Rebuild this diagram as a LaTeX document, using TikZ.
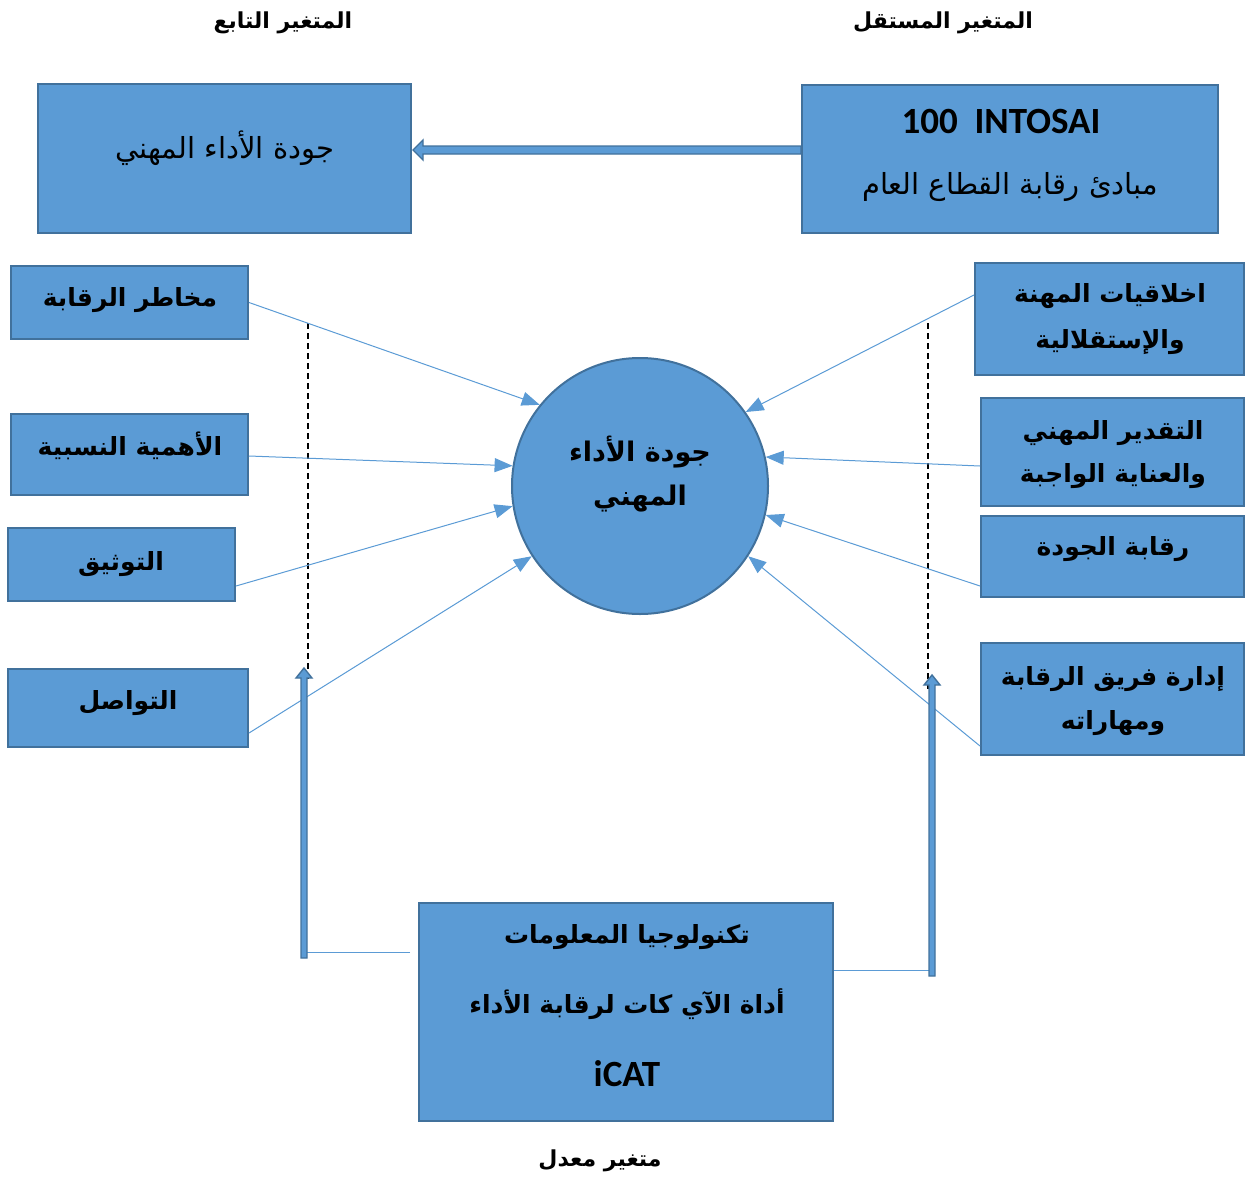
\documentclass[tikz,border=0pt]{standalone}
\usepackage{fontspec}
\usetikzlibrary{arrows.meta,calc}
\TeXXeTstate=1
\newfontfamily\arabicfont[Script=Arabic]{DejaVu Sans}
\newfontfamily\latinfont{Carlito}
\definecolor{boxblue}{HTML}{5B9BD5}
\definecolor{boxdark}{HTML}{41719C}
\newcommand\AR[1]{\beginR #1\endR}
\tikzset{
  box/.style={draw=boxdark, fill=boxblue, line width=2pt, inner sep=0pt},
  boldtext/.style={inner sep=0pt, yshift=-3pt, font=\arabicfont\bfseries\fontsize{25}{30}\selectfont},
  circtext/.style={inner sep=0pt, font=\arabicfont\bfseries\fontsize{27}{32}\selectfont},
  regtext/.style={inner sep=0pt, font=\arabicfont\fontsize{29}{34}\selectfont},
  lattext/.style={inner sep=0pt, font=\latinfont\bfseries\fontsize{37}{40}\selectfont},
  titletext/.style={inner sep=0pt, yshift=-3pt, font=\arabicfont\bfseries\fontsize{22}{26}\selectfont},
  conn/.style={draw=boxblue, line width=1pt, -{Triangle[length=18pt,width=14pt]}},
  thinline/.style={draw=boxblue, line width=1pt},
  dashline/.style={draw=black, line width=1.5pt, dash pattern=on 6pt off 4pt},
  blockarrow/.style={fill=boxblue, draw=boxdark, line width=1.4pt, line join=miter}
}
\begin{document}
\begin{tikzpicture}[x=1pt,y=-1pt]
\useasboundingbox (0,0) rectangle (1253,1178);
% titles
\node[titletext] (tdep) at (283,20) {\AR{المتغير التابع}};
\node[titletext] (tind) at (943,20) {\AR{المتغير المستقل}};
% top boxes
\node[box, minimum width=373pt, minimum height=149pt] (dep) at (224.5,158.5) {};
\node[regtext] (deptext) at (225,148) {\AR{جودة الأداء المهني}};
\node[box, minimum width=416pt, minimum height=148pt] (ind) at (1010,159) {};
\node[lattext] (indtexta) at (1001,121) {100\ \ INTOSAI};
\node[regtext] (indtextb) at (1010,187) {\AR{مبادئ رقابة القطاع العام}};
% block arrow between top boxes
\coordinate (toptip) at (413,150);
\path[blockarrow] (toptip) -- ++(10,-10) -- ++(0,6) -- (ind.west |- 0,146) -- (ind.west |- 0,154)
  -- (423,154) -- ++(0,6) -- cycle;
% left boxes
\node[box, minimum width=237pt, minimum height=73pt] (risk) at (129.5,302.5) {};
\node[boldtext] (risktext) at (130,297) {\AR{مخاطر الرقابة}};
\node[box, minimum width=237pt, minimum height=81pt] (mat) at (129.5,454.5) {};
\node[boldtext] (mattext) at (130,443) {\AR{الأهمية النسبية}};
\node[box, minimum width=227pt, minimum height=73pt] (doc) at (121.5,564.5) {};
\node[boldtext] (doctext) at (121,561) {\AR{التوثيق}};
\node[box, minimum width=240pt, minimum height=78pt] (comm) at (128,708) {};
\node[boldtext] (commtext) at (128,700) {\AR{التواصل}};
% circle
\node[box, circle, minimum size=256pt] (qual) at (640,486) {};
\node[circtext] (qualtexta) at (640,452) {\AR{جودة الأداء}};
\node[circtext] (qualtextb) at (640,499) {\AR{المهني}};
% right boxes
\node[box, minimum width=269pt, minimum height=112pt] (eth) at (1109.5,319) {};
\node[boldtext] (ethtexta) at (1110,293) {\AR{اخلاقيات المهنة}};
\node[boldtext] (ethtextb) at (1110,339) {\AR{والإستقلالية}};
\node[box, minimum width=263pt, minimum height=108pt] (jud) at (1112.5,452) {};
\node[boldtext] (judtexta) at (1113,430) {\AR{التقدير المهني}};
\node[boldtext] (judtextb) at (1113,473) {\AR{والعناية الواجبة}};
\node[box, minimum width=263pt, minimum height=81pt] (qc) at (1112.5,556.5) {};
\node[boldtext] (qctext) at (1113,546) {\AR{رقابة الجودة}};
\node[box, minimum width=263pt, minimum height=112pt] (team) at (1112.5,699) {};
\node[boldtext] (teamtexta) at (1113,676) {\AR{إدارة فريق الرقابة}};
\node[boldtext] (teamtextb) at (1113,720) {\AR{ومهاراته}};
% bottom box
\node[box, minimum width=414pt, minimum height=218pt] (it) at (626,1012) {};
\node[boldtext] (ittexta) at (627,934) {\AR{تكنولوجيا المعلومات}};
\node[boldtext] (ittextb) at (627,1001) {\AR{أداة الآي كات لرقابة الأداء}};
\node[lattext] (ittextc) at (627,1074) {iCAT};
\node[titletext] (mod) at (600,1158) {\AR{متغير معدل}};
% dashed lines
\coordinate (dla) at (308,323); \coordinate (dlb) at (308,680);
\coordinate (dra) at (928,323); \coordinate (drb) at (928,690);
\draw[dashline] (dla) -- (dlb);
\draw[dashline] (dra) -- (drb);
% thin arrows into circle
\draw[conn] (risk.east) -- (qual.141);
\draw[conn] ([yshift=-1.5pt]mat.east) -- (qual.171);
\draw[conn] ([yshift=-21.5pt]doc.east) -- (qual.189);
\draw[conn] ([yshift=-25pt]comm.east) -- (qual.213);
\draw[conn] ([yshift=24pt]eth.west) -- (qual.35);
\draw[conn] ([yshift=-14pt]jud.west) -- (qual.13);
\draw[conn] ([yshift=-29.5pt]qc.west) -- (qual.347);
\draw[conn] ([yshift=-47pt]team.west) -- (qual.327);
% moderator connectors
\coordinate (ltip) at (304,668);
\coordinate (rtip) at (932,675);
\draw[thinline] ([xshift=-8pt]it.west |- 0,952) -- (307,952);
\path[blockarrow] (ltip) -- ++(8,10) -- ++(-5,0) -- (307,958) -- (301,958) -- (301,678) -- ++(-5,0) -- cycle;
\draw[thinline] (it.east |- 0,970) -- (929,970);
\path[blockarrow] (rtip) -- ++(8,10) -- ++(-5,0) -- (935,976) -- (929,976) -- (929,685) -- ++(-5,0) -- cycle;
\end{tikzpicture}
\end{document}
